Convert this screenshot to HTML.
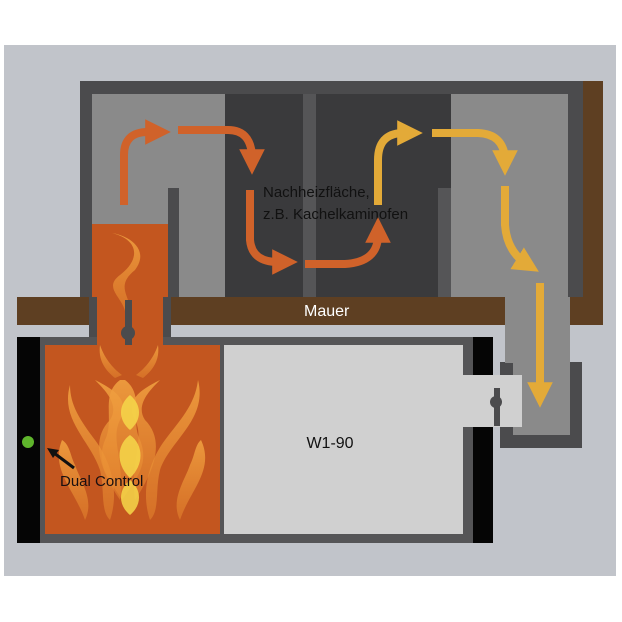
<!DOCTYPE html>
<html><head><style>body{margin:0;background:#fff}svg{display:block}</style></head><body>
<svg width="622" height="622" viewBox="0 0 622 622" xmlns="http://www.w3.org/2000/svg" font-family="Liberation Sans, sans-serif">
<defs>
<marker id="ao" viewBox="0 0 10 10" refX="5" refY="5" markerWidth="3.2" markerHeight="3.2" orient="auto"><path d="M0,0L10,5L0,10z" fill="#d0622a"/></marker>
<marker id="ay" viewBox="0 0 10 10" refX="5" refY="5" markerWidth="3.2" markerHeight="3.2" orient="auto"><path d="M0,0L10,5L0,10z" fill="#e3aa38"/></marker>
<linearGradient id="fl" x1="0" y1="0" x2="0" y2="1"><stop offset="0" stop-color="#f0a040" stop-opacity="0.9"/><stop offset="1" stop-color="#e88a30" stop-opacity="0.5"/></linearGradient>
</defs>
<rect x="4" y="45" width="612" height="531" fill="#c1c4ca"/>
<rect x="80" y="81" width="503" height="216" fill="#4b4b4d"/>
<rect x="583" y="81" width="20" height="244" fill="#5e3f22"/>
<rect x="92" y="94" width="133" height="203" fill="#8a8a8a"/>
<rect x="225" y="94" width="226" height="203" fill="#3a3a3c"/>
<rect x="303" y="94" width="13" height="203" fill="#555557"/>
<rect x="438" y="188" width="13" height="109" fill="#555557"/>
<rect x="451" y="94" width="117" height="203" fill="#8a8a8a"/>
<rect x="168" y="188" width="11" height="109" fill="#4b4b4d"/>
<rect x="17" y="297" width="488" height="28" fill="#5e3f22"/>
<rect x="568" y="297" width="35" height="28" fill="#5e3f22"/>
<text x="304" y="316" font-size="16" fill="#fff">Mauer</text>
<rect x="505" y="297" width="63" height="28" fill="#8a8a8a"/>
<rect x="500" y="362" width="82" height="86" fill="#4b4b4d"/>
<rect x="513" y="297" width="57" height="138" fill="#8a8a8a"/>
<rect x="505" y="297" width="8" height="66" fill="#8a8a8a"/>
<rect x="89" y="297" width="82" height="48" fill="#4b4b4d"/>
<rect x="92" y="224" width="76" height="73" fill="#c3561f"/>
<rect x="97" y="297" width="66" height="48" fill="#c3561f"/>
<rect x="40" y="337" width="433" height="206" fill="#555557"/>
<rect x="45" y="345" width="175" height="189" fill="#c3561f"/>
<rect x="224" y="345" width="239" height="189" fill="#d0d0d0"/>
<rect x="97" y="337" width="66" height="10" fill="#c3561f"/>
<rect x="17" y="337" width="23" height="206" fill="#050505"/>
<rect x="473" y="337" width="20" height="38" fill="#050505"/>
<rect x="473" y="427" width="20" height="116" fill="#050505"/>
<rect x="463" y="375" width="59" height="52" fill="#d0d0d0"/>
<rect x="494" y="388" width="6" height="38" fill="#4b4b4d"/><circle cx="496" cy="402" r="6" fill="#4b4b4d"/>
<g fill="url(#fl)">
<path d="M112,233 C140,240 140,260 120,275 C100,290 130,300 125,320 C140,300 110,290 135,270 C150,250 130,236 112,233z"/>
<path d="M120,380 C100,395 115,420 105,440 C95,465 110,480 122,500 C135,480 150,465 140,440 C130,420 145,395 125,380z"/>
<path d="M95,380 C115,390 130,400 120,420 C110,440 125,460 120,500 C100,470 90,440 110,420 C120,405 105,390 95,380z"/>
<path d="M160,380 C140,390 125,400 135,420 C145,440 130,460 135,500 C155,470 165,440 145,420 C135,405 150,390 160,380z"/>
<path d="M70,385 C60,420 90,440 100,470 C105,490 100,510 110,520 C120,490 110,460 95,440 C80,420 70,405 70,385z"/>
<path d="M198,380 C208,420 170,440 160,470 C155,490 160,510 150,520 C140,490 150,460 165,440 C180,420 195,405 198,380z"/>
<path d="M62,440 C50,470 75,490 85,520 C95,500 80,480 75,465 C70,455 70,445 62,440z"/>
<path d="M201,440 C215,470 190,490 180,520 C170,500 185,480 190,465 C195,455 195,445 201,440z"/>
<path d="M100,345 C105,360 115,370 122,375 L115,378 C105,370 98,360 100,345z"/>
<path d="M158,345 C153,360 143,370 136,375 L143,378 C153,370 160,360 158,345z"/>
</g>
<g fill="#f6d84a" opacity="0.85">
<path d="M130,395 C118,405 118,420 130,430 C142,420 142,405 130,395z"/>
<path d="M130,435 C116,445 116,465 130,478 C144,465 144,445 130,435z"/>
<path d="M130,480 C118,490 118,505 130,515 C142,505 142,490 130,480z"/>
</g>
<rect x="125" y="300" width="7" height="45" fill="#4b4b4d"/><circle cx="128" cy="333" r="7" fill="#4b4b4d"/>
<circle cx="28" cy="442" r="6" fill="#5fb52c"/>
<line x1="74" y1="468" x2="54" y2="453" stroke="#111" stroke-width="3"/>
<path d="M47,448 L59,450 L53,458z" fill="#111"/>
<text x="60" y="486" font-size="15" fill="#1a1010">Dual Control</text>
<text x="330" y="448" font-size="16" fill="#111" text-anchor="middle">W1-90</text>
<text x="263" y="197" font-size="15" fill="#111">Nachheizfläche,</text>
<text x="263" y="219" font-size="15" fill="#111">z.B. Kachelkaminofen</text>
<g fill="none" stroke-width="8">
<path d="M124,205 L124,155 Q124,132 148,132 L158,132" stroke="#d0622a" marker-end="url(#ao)"/>
<path d="M178,130 L228,130 Q250,130 252,155 L252,162" stroke="#d0622a" marker-end="url(#ao)"/>
<path d="M250,190 L250,240 Q252,262 278,262 L285,262" stroke="#d0622a" marker-end="url(#ao)"/>
<path d="M305,264 L345,264 Q378,262 378,235 L378,230" stroke="#d0622a" marker-end="url(#ao)"/>
<path d="M378,205 L378,160 Q378,134 402,133 L410,133" stroke="#e3aa38" marker-end="url(#ay)"/>
<path d="M432,133 L478,133 Q503,134 505,158 L505,163" stroke="#e3aa38" marker-end="url(#ay)"/>
<path d="M505,186 L505,225 Q507,252 528,265" stroke="#e3aa38" marker-end="url(#ay)"/>
<path d="M540,283 L540,395" stroke="#e3aa38" marker-end="url(#ay)"/>
</g>
</svg>
</body></html>
